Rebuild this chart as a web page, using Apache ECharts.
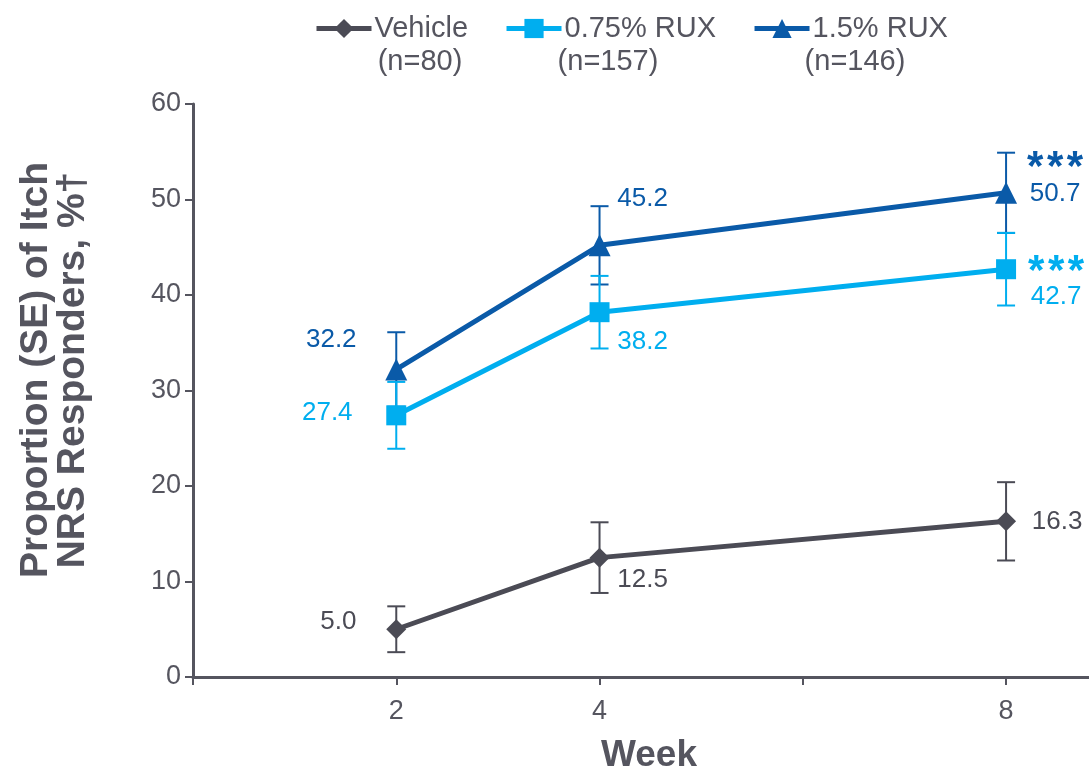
<!DOCTYPE html>
<html>
<head>
<meta charset="utf-8">
<title>Itch NRS Responders by Week</title>
<script src="https://cdn.jsdelivr.net/npm/echarts@6/dist/echarts.min.js"></script>
<style>
  html, body { margin: 0; padding: 0; background: #ffffff; }
  #chart { width: 1089px; height: 772px; }
</style>
</head>
<body>
<div id="chart"></div>
<script>
// ---- data ----
const weeks = [2, 4, 8];
const seriesNames = ['Vehicle', '0.75% RUX', '1.5% RUX'];
const sampleSizes = ['(n=80)', '(n=157)', '(n=146)'];
const vehicleValues = [5.0, 12.5, 16.3];
const vehicleSE = [2.4, 3.7, 4.1];
const rux075Values = [27.4, 38.2, 42.7];
const rux075SE = [3.5, 3.8, 3.8];
const rux15Values = [32.2, 45.2, 50.7];
const rux15SE = [3.9, 4.1, 4.2];
const rux075Sig = ['', '', '***'];
const rux15Sig = ['', '', '***'];
const yTicks = [0, 10, 20, 30, 40, 50, 60];
const xTickLabels = ['2', '4', '8'];

// ---- styling ----
const FONT = '"Liberation Sans", Arial, Helvetica, sans-serif';
const GRAY = '#4b4b55';
const AXIS = '#55555f';
const LIGHT = '#00aeef';
const DARK = '#0a5aa8';

// label offsets (dx, dy from the marker centre) per point
const labelOffsets = {
  vehicle: [[-58, -7], [43, 22], [51, 0]],
  rux075:  [[-69, -3], [43, 30], [50, 12]],
  rux15:   [[-65, -30], [43, -47], [49, -15]]
};

function lineSeries(name, values, color, symbol, size, offsets, sig) {
  return {
    name: name,
    type: 'line',
    data: values.map((v, i) => ({ value: [weeks[i], v], label: { offset: offsets[i] } })),
    symbol: symbol,
    symbolSize: size,
    lineStyle: { color: color, width: 5 },
    itemStyle: { color: color },
    z: 5,
    animation: false,
    label: {
      show: true,
      position: 'inside',
      align: 'center',
      verticalAlign: 'middle',
      fontFamily: FONT,
      fontSize: 26,
      color: color,
      formatter: function (p) {
        const s = sig && sig[p.dataIndex];
        const txt = p.value[1].toFixed(1);
        // significance stars, spaced apart slightly
        return s ? '{s|' + s.split('').join('\u200A') + '}\n{v|' + txt + '}' : '{v|' + txt + '}';
      },
      rich: {
        s: { fontFamily: FONT, fontSize: 42, fontWeight: 'bold', color: color, lineHeight: 32, padding: [14, 0, 0, 0] },
        v: { fontFamily: FONT, fontSize: 26, color: color, lineHeight: 32 }
      }
    }
  };
}

function errorSeries(values, se, color) {
  return {
    type: 'custom',
    silent: true,
    animation: false,
    z: 2,
    data: values.map((v, i) => [weeks[i], v - se[i], v + se[i]]),
    renderItem: function (params, api) {
      const x = api.value(0);
      const lo = api.coord([x, api.value(1)]);
      const hi = api.coord([x, api.value(2)]);
      const hw = 9;
      const style = { stroke: color, lineWidth: 2 };
      return {
        type: 'group',
        children: [
          { type: 'line', shape: { x1: lo[0], y1: lo[1], x2: hi[0], y2: hi[1] }, style: style },
          { type: 'line', shape: { x1: lo[0] - hw, y1: lo[1], x2: lo[0] + hw, y2: lo[1] }, style: style },
          { type: 'line', shape: { x1: hi[0] - hw, y1: hi[1], x2: hi[0] + hw, y2: hi[1] }, style: style }
        ]
      };
    }
  };
}

const chart = echarts.init(document.getElementById('chart'), null, { renderer: 'canvas' });

const option = {
  backgroundColor: '#ffffff',
  animation: false,
  grid: { left: 193, top: 104, right: 0, bottom: 95, containLabel: false },
  legend: {
    data: seriesNames,
    left: 309,
    top: 9,
    itemWidth: 55,
    itemHeight: 24,
    itemGap: 36,
    selectedMode: false,
    lineStyle: { width: 5 },
    textStyle: { fontFamily: FONT, fontSize: 29, color: AXIS, padding: [0, 0, 0, -2] }
  },
  xAxis: {
    type: 'value',
    min: 0,
    max: 8.816,
    interval: 2,
    axisLine: { show: true, onZero: false, lineStyle: { color: AXIS, width: 3 } },
    axisTick: { show: true, inside: false, length: 8, lineStyle: { color: AXIS, width: 2 } },
    splitLine: { show: false },
    axisLabel: {
      fontFamily: FONT,
      fontSize: 27,
      color: AXIS,
      margin: 21,
      showMaxLabel: false,
      formatter: function (v) { return xTickLabels.indexOf(String(v)) >= 0 ? String(v) : ''; }
    }
  },
  yAxis: {
    type: 'value',
    min: yTicks[0],
    max: yTicks[yTicks.length - 1],
    interval: 10,
    axisLine: { show: true, lineStyle: { color: AXIS, width: 3 } },
    axisTick: { show: true, inside: false, length: 8, lineStyle: { color: AXIS, width: 2 } },
    splitLine: { show: false },
    axisLabel: { fontFamily: FONT, fontSize: 27, color: AXIS, margin: 12 }
  },
  graphic: [
    {
      type: 'text', x: 55, y: 370, rotation: Math.PI / 2,
      style: {
        text: 'Proportion (SE) of Itch\nNRS Responders, %†',
        fontFamily: FONT, fontSize: 39, fontWeight: 'bold', fill: AXIS,
        align: 'center', verticalAlign: 'middle', lineHeight: 37
      }
    },
    {
      type: 'text', x: 649, y: 756,
      style: {
        text: 'Week', fontFamily: FONT, fontSize: 37, fontWeight: 'bold', fill: AXIS,
        align: 'center', verticalAlign: 'middle'
      }
    }
  ].concat(sampleSizes.map((t, i) => ({
    type: 'text', x: [420, 608, 855][i], y: 62,
    style: { text: t, fontFamily: FONT, fontSize: 29, fill: AXIS, align: 'center', verticalAlign: 'middle' }
  }))),
  series: [
    errorSeries(vehicleValues, vehicleSE, GRAY),
    errorSeries(rux15Values, rux15SE, DARK),
    errorSeries(rux075Values, rux075SE, LIGHT),
    lineSeries(seriesNames[0], vehicleValues, GRAY, 'diamond', 20, labelOffsets.vehicle, null),
    lineSeries(seriesNames[2], rux15Values, DARK, 'triangle', 22, labelOffsets.rux15, rux15Sig),
    lineSeries(seriesNames[1], rux075Values, LIGHT, 'rect', 20, labelOffsets.rux075, rux075Sig)
  ]
};

chart.setOption(option);
</script>
</body>
</html>
